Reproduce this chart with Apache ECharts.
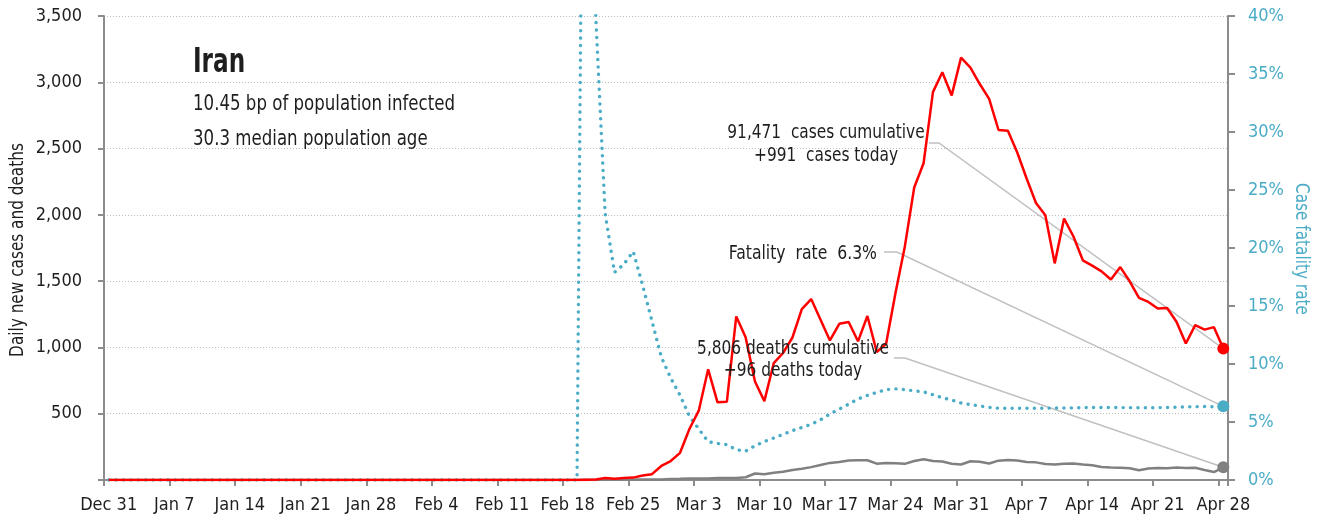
<!DOCTYPE html>
<html>
<head>
<meta charset="utf-8">
<script src="https://cdn.jsdelivr.net/npm/echarts@6/dist/echarts.min.js"></script>
<style>
html,body{margin:0;padding:0;background:#fff;}
#chart{width:1323px;height:520px;}
</style>
</head>
<body>
<div id="chart"></div>
<script>
// ---------- DATA ----------
const startDate = '2019-12-31';
const dayCount = 120; // Dec 31 .. Apr 28
const monthNames = ['Jan','Feb','Mar','Apr','May','Jun','Jul','Aug','Sep','Oct','Nov','Dec'];
const categories = [];
(function(){
  const d0 = new Date(startDate + 'T00:00:00Z');
  for (let i = 0; i < dayCount; i++) {
    const d = new Date(d0.getTime() + i * 86400000);
    categories.push(monthNames[d.getUTCMonth()] + ' ' + d.getUTCDate());
  }
})();

// daily new cases (left axis)
const newCases = [
  0,0,0,0,0,0,0,0,0,0, 0,0,0,0,0,0,0,0,0,0,
  0,0,0,0,0,0,0,0,0,0, 0,0,0,0,0,0,0,0,0,0,
  0,0,0,0,0,0,0,0,0,0, 0,
  2,3,15,10,15,18,34,44,106,143,
  205,385,523,835,586,591,1234,1076,743,595,
  881,958,1075,1289,1365,1209,1053,1178,1192,1046,
  1237,966,1028,1411,1762,2206,2389,2926,3076,2901,
  3186,3110,2987,2875,2640,2635,2470,2274,2089,1997,
  1634,1972,1837,1657,1617,1574,1512,1606,1499,1374,
  1343,1294,1297,1194,1030,1168,1134,1153,991
];

// daily new deaths (left axis)
const newDeaths = [
  0,0,0,0,0,0,0,0,0,0, 0,0,0,0,0,0,0,0,0,0,
  0,0,0,0,0,0,0,0,0,0, 0,0,0,0,0,0,0,0,0,0,
  0,0,0,0,0,0,0,0,0,0, 0,
  2,0,2,1,3,4,4,3,4,8,
  9,11,12,11,15,15,16,21,49,43,
  54,63,75,85,97,113,129,135,147,149,
  149,123,129,127,122,143,157,144,139,123,
  117,141,138,124,146,150,147,136,133,121,
  117,122,125,117,111,98,94,92,89,73,
  87,91,88,94,90,93,76,60,96
];

// case fatality rate, % (right axis)
const fatalityRate = [
  0,0,0,0,0,0,0,0,0,0, 0,0,0,0,0,0,0,0,0,0,
  0,0,0,0,0,0,0,0,0,0, 0,0,0,0,0,0,0,0,0,0,
  0,0,0,0,0,0,0,0,0,0,
  0,100,40,23,17.9,18.6,19.7,16.8,13.7,10.6,
  8.8,7.3,5.5,4.4,3.3,3.15,3.05,2.61,2.49,2.95,
  3.31,3.62,3.93,4.26,4.52,4.8,5.19,5.69,6.11,6.54,
  6.98,7.29,7.55,7.79,7.86,7.79,7.69,7.6,7.35,7.1,
  6.89,6.64,6.5,6.38,6.26,6.19,6.19,6.19,6.18,6.19,
  6.18,6.21,6.21,6.22,6.24,6.25,6.25,6.25,6.24,6.24,
  6.22,6.23,6.24,6.25,6.27,6.3,6.32,6.33,6.31,6.35
];

const leftTicks = { min: 0, max: 3500, interval: 500 };
const rightTicks = { min: 0, max: 40, interval: 5 };

const leftAxisName = 'Daily new cases and deaths';
const rightAxisName = 'Case fatality rate';
const titleText = 'Iran';
const subtitleLines = ['10.45 bp of population infected', '30.3 median population age'];
const casesNote = ['91,471  cases cumulative', '+991  cases today'];
const rateNote = 'Fatality  rate  6.3%';
const deathsNote = ['5,806 deaths cumulative', '+96 deaths today'];

// ---------- STYLE ----------
const FONT = '"DejaVu Sans Condensed", "DejaVu Sans", sans-serif';
const RED = '#ff0000';
const GRAY = '#808080';
const BLUE = '#4bacc6';
const AXIS = '#8c8c8c';
const LEADER = '#c0c0c0';
const INK = '#1e1e1e';

function withEndDot(arr, size) {
  return arr.map((v, i) => i === arr.length - 1
    ? { value: v, symbol: 'circle', symbolSize: size }
    : v);
}
function fmtThousands(v) {
  return String(v).replace(/\B(?=(\d{3})+(?!\d))/g, ',');
}

const chart = echarts.init(document.getElementById('chart'), null, { renderer: 'canvas' });

const option = {
  animation: false,
  backgroundColor: '#ffffff',
  textStyle: { fontFamily: FONT },
  grid: { left: 104, right: 95, top: 16, bottom: 40, containLabel: false, outerBoundsMode: 'none' },
  xAxis: {
    type: 'category',
    data: categories,
    boundaryGap: true,
    axisLine: { show: true, lineStyle: { color: AXIS, width: 2 } },
    axisTick: { show: true, interval: 6, length: 6, lineStyle: { color: AXIS, width: 2 } },
    axisLabel: { interval: 6, color: INK, fontSize: 18, fontFamily: FONT, margin: 16 },
    splitLine: { show: false }
  },
  yAxis: [
    {
      type: 'value',
      position: 'left',
      min: leftTicks.min, max: leftTicks.max, interval: leftTicks.interval,
      axisLine: { show: true, lineStyle: { color: AXIS, width: 2 } },
      axisTick: { show: true, length: 6, lineStyle: { color: AXIS, width: 2 } },
      axisLabel: { color: INK, fontSize: 18, fontFamily: FONT, margin: 22,
        formatter: v => v === 0 ? '' : fmtThousands(v) },
      splitLine: { show: true, lineStyle: { color: '#bdbdbd', width: 1, type: [1, 2] } }
    },
    {
      type: 'value',
      position: 'right',
      min: rightTicks.min, max: rightTicks.max, interval: rightTicks.interval,
      axisLine: { show: true, lineStyle: { color: AXIS, width: 2 } },
      axisTick: { show: true, length: 7, lineStyle: { color: AXIS, width: 2 } },
      axisLabel: { color: BLUE, fontSize: 18, fontFamily: FONT, margin: 20, formatter: '{value}%' },
      splitLine: { show: false }
    }
  ],
  series: [
    {
      name: 'Case fatality rate',
      type: 'line',
      yAxisIndex: 1,
      data: withEndDot(fatalityRate, 12),
      symbol: 'none',
      showSymbol: true,
      showAllSymbol: true,
      itemStyle: { color: BLUE },
      lineStyle: { color: BLUE, width: 3.4, type: [0.1, 7.3], cap: 'round' },
      z: 2
    },
    {
      name: 'Deaths',
      type: 'line',
      yAxisIndex: 0,
      data: withEndDot(newDeaths, 12),
      symbol: 'none',
      showSymbol: true,
      showAllSymbol: true,
      itemStyle: { color: GRAY },
      lineStyle: { color: GRAY, width: 2.5 },
      z: 3
    },
    {
      name: 'Cases',
      type: 'line',
      yAxisIndex: 0,
      data: withEndDot(newCases, 12),
      symbol: 'none',
      showSymbol: true,
      showAllSymbol: true,
      itemStyle: { color: RED },
      lineStyle: { color: RED, width: 2.5 },
      z: 4
    }
  ]
};
chart.setOption(option);

// ---------- ANNOTATIONS ----------
const last = dayCount - 1;
const pCases = chart.convertToPixel({ xAxisIndex: 0, yAxisIndex: 0 }, [last, newCases[last]]);
const pDeaths = chart.convertToPixel({ xAxisIndex: 0, yAxisIndex: 0 }, [last, newDeaths[last]]);
const pRate = chart.convertToPixel({ xAxisIndex: 0, yAxisIndex: 1 }, [last, fatalityRate[last]]);

function leader(x0, x1, y, end) {
  return {
    type: 'polyline', z: 1, silent: true,
    shape: { points: [[x0, y], [x1, y], end] },
    style: { stroke: LEADER, lineWidth: 1.5, fill: null }
  };
}
function txt(x, y, text, size, align, o) {
  o = o || {};
  return {
    type: 'text', x: x, y: y, z: 10, silent: true,
    scaleX: o.sx || 1, rotation: o.rot || 0,
    style: {
      text: text, fill: o.color || INK,
      font: (o.weight ? o.weight + ' ' : '') + size + 'px ' + FONT,
      textAlign: align, textVerticalAlign: 'middle',
      lineHeight: o.lineHeight || size
    }
  };
}

chart.setOption({
  graphic: [
    leader(929, 939, 143, pCases),
    leader(884, 897, 252, pRate),
    leader(894, 905, 358, pDeaths),
    txt(17.5, 250, leftAxisName, 20, 'center', { rot: Math.PI / 2, sx: 0.85 }),
    txt(1301, 249, rightAxisName, 20, 'center', { rot: -Math.PI / 2, sx: 0.85, color: BLUE }),
    txt(193, 63, titleText, 33, 'left', { weight: 'bold', sx: 0.78 }),
    txt(193, 104, subtitleLines[0], 22, 'left', { sx: 0.84 }),
    txt(193, 139, subtitleLines[1], 22, 'left', { sx: 0.84 }),
    txt(826, 144.5, casesNote.join('\n'), 20, 'center', { lineHeight: 22.5, sx: 0.855 }),
    txt(877, 254, rateNote, 20, 'right', { sx: 0.87 }),
    txt(793, 360, deathsNote.join('\n'), 20, 'center', { lineHeight: 21.7, sx: 0.855 })
  ]
});
</script>
</body>
</html>
